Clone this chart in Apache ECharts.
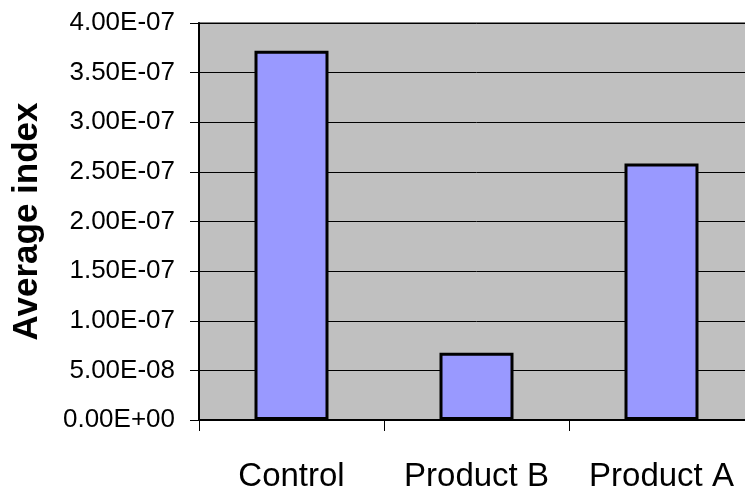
<!DOCTYPE html>
<html>
<head>
<meta charset="utf-8">
<script src="https://cdn.jsdelivr.net/npm/echarts@6/dist/echarts.min.js"></script>
<style>
  html, body { margin: 0; padding: 0; overflow: hidden; background: #ffffff; }
  #chart { width: 755px; height: 493px; }
</style>
</head>
<body>
<div id="chart"></div>
<script>
// Category names along the x axis
const categories = ['Control', 'Product B', 'Product A'];
// Average index per category
const averageIndex = [3.72e-7, 6.77e-8, 2.585e-7];
// Value axis range and step
const yMin = 0;
const yMax = 4e-7;
const yStep = 5e-8;
const yTitle = 'Average index';

// Scientific notation with a two-digit exponent, e.g. 3.50E-07
function sci(v) {
  const parts = Number(v).toExponential(2).split('e');
  const sign = parts[1][0];
  let digits = parts[1].slice(1);
  if (digits.length < 2) digits = '0' + digits;
  return parts[0] + 'E' + sign + digits;
}

const chart = echarts.init(document.getElementById('chart'), null, { renderer: 'canvas' });
const font = '"Liberation Sans", Arial, sans-serif';

chart.setOption({
  animation: false,
  backgroundColor: '#ffffff',
  grid: {
    left: 199,
    top: 23,
    width: 555,
    bottom: 72,
    show: true,
    backgroundColor: '#C0C0C0',
    borderColor: '#808080',
    borderWidth: 2
  },
  xAxis: {
    type: 'category',
    data: categories,
    boundaryGap: true,
    axisLine: { show: true, lineStyle: { color: '#000000', width: 2 } },
    axisTick: { show: true, interval: 0, alignWithLabel: false, length: 11, lineStyle: { color: '#000000', width: 1 } },
    axisLabel: {
      interval: 0,
      hideOverlap: false,
      color: '#000000',
      fontFamily: font,
      fontSize: 33,
      margin: 40
    },
    splitLine: { show: false }
  },
  yAxis: {
    type: 'value',
    min: yMin,
    max: yMax,
    interval: yStep,
    name: yTitle,
    nameLocation: 'middle',
    nameGap: 154,
    nameRotate: 90,
    nameTextStyle: {
      color: '#000000',
      fontFamily: font,
      fontSize: 35,
      fontWeight: 'bold'
    },
    axisLine: { show: true, lineStyle: { color: '#000000', width: 2 } },
    axisTick: { show: true, length: 9, lineStyle: { color: '#000000', width: 1 } },
    axisLabel: {
      color: '#000000',
      fontFamily: font,
      fontSize: 26,
      margin: 24,
      formatter: sci
    },
    splitLine: { show: true, lineStyle: { color: '#000000', width: 1 } }
  },
  series: [{
    type: 'bar',
    data: averageIndex,
    barWidth: '40%',
    itemStyle: {
      color: '#9999FF',
      borderColor: '#000000',
      borderWidth: 3
    }
  }]
});
</script>
</body>
</html>
